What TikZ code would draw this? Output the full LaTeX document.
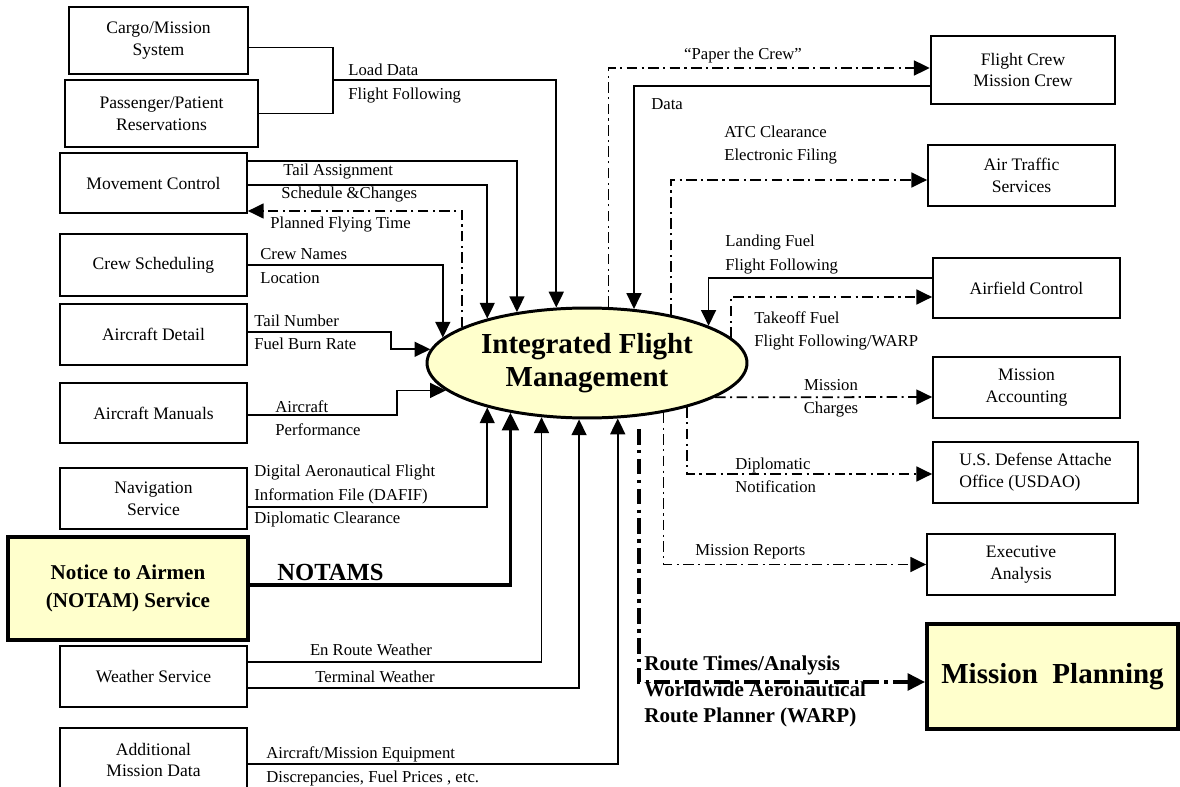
\documentclass[tikz,border=0pt]{standalone}
\usepackage{fontspec}
\setmainfont{Liberation Serif}
\usetikzlibrary{arrows.meta,shapes.geometric,calc}

\definecolor{paleyellow}{HTML}{FFFFCC}
\newcommand{\boxfont}{\fontsize{10}{12.5}\selectfont}
\newcommand{\lblfont}{\fontsize{9.5}{13.3}\selectfont}

\tikzset{
  box/.style={draw, line width=1pt, inner sep=2pt, align=center, font=\boxfont},
  heavybox/.style={box, line width=1.4pt},
  hlbox/.style={draw, line width=2.2pt, fill=paleyellow, align=center, inner sep=2pt},
  conn/.style={line width=1pt},
  tip/.style={-{Triangle[length=9pt,width=8.5pt]}},
  arr/.style={conn, tip},
  dd/.style={line width=1pt, dash pattern=on 6pt off 2.5pt on 1.2pt off 2.5pt, tip},
  lbl/.style={font=\lblfont, align=left, inner sep=0pt, anchor=west},
}

\begin{document}
\begin{tikzpicture}[x=0.02cm, y=-0.02cm]
\useasboundingbox (0,0) rectangle (1180,787);

% central process
\node[ellipse, draw, line width=1.7pt, fill=paleyellow, minimum width=6.4cm,
      minimum height=2.2cm, inner sep=0pt, align=center,
      font=\fontsize{16.5}{18.7}\selectfont\bfseries] (ifm) at (587,363)
      {Integrated Flight\\Management};

% sources on the left
\node[heavybox, minimum width=3.58cm, minimum height=1.34cm] (cargo) at (158.5,40.5) {Cargo/Mission\\System};
\node[heavybox, minimum width=3.86cm, minimum height=1.34cm] (pass) at (161.5,113.5) {Passenger/Patient\\Reservations};
\node[box, minimum width=3.74cm, minimum height=1.2cm] (move) at (153.5,183) {Movement Control};
\node[box, minimum width=3.74cm, minimum height=1.24cm] (crew) at (153.5,265) {Crew Scheduling};
\node[box, minimum width=3.74cm, minimum height=1.22cm] (acdet) at (153.5,334.5) {Aircraft Detail};
\node[box, minimum width=3.74cm, minimum height=1.2cm] (acman) at (153.5,413) {Aircraft Manuals};
\node[box, minimum width=3.74cm, minimum height=1.22cm] (nav) at (153.5,498.5) {Navigation\\Service};
\node[hlbox, minimum width=4.8cm, minimum height=2.06cm,
      font=\fontsize{12}{16}\selectfont\bfseries] (notam) at (128,588.5) {Notice to Airmen\\(NOTAM) Service};
\node[box, minimum width=3.74cm, minimum height=1.22cm] (wx) at (153.5,676.5) {Weather Service};
\node[box, minimum width=3.74cm, minimum height=1.28cm] (addl) at (153.5,760) {Additional\\Mission Data};

% recipients on the right
\node[heavybox, minimum width=3.68cm, minimum height=1.36cm] (fcrew) at (1023,70) {Flight Crew\\Mission Crew};
\node[box, minimum width=3.74cm, minimum height=1.22cm] (ats) at (1021.5,175.5) {Air Traffic\\Services};
\node[box, minimum width=3.74cm, minimum height=1.2cm] (afc) at (1026.5,288) {Airfield Control};
\node[box, minimum width=3.74cm, minimum height=1.22cm] (macc) at (1026.5,387.5) {Mission\\Accounting};
\node[box, minimum width=4.1cm, minimum height=1.22cm, align=left] (usdao) at (1035.5,472.5) {U.S. Defense Attache\\Office (USDAO)};
\node[box, minimum width=3.76cm, minimum height=1.22cm] (exec) at (1021,564.5) {Executive\\Analysis};
\node[hlbox, minimum width=5.02cm, minimum height=2.1cm,
      font=\fontsize{16.5}{18.7}\selectfont\bfseries] (mplan) at (1052.5,676.5) {Mission\ \ Planning};

% junction of the two load-data feeds
\coordinate (jload) at (333,80);

% inputs to the central process
\draw[conn] ($(cargo.east)+(0,7)$) -| (jload) |- (pass.east);
\draw[arr] (jload) -| (ifm.119.1);
\draw[arr] ($(move.east)+(0,-22)$) -| (ifm.144.7);
\draw[arr] ($(move.east)+(0,2)$) -| (ifm.156.8);
\draw[dd] (ifm.164) |- ($(move.east)+(0,28)$);
\draw[arr] (crew.east) -| (ifm.170.5);
\draw[arr] ($(acdet.east)+(0,-2.5)$) -- ++(143,0) |- (ifm.175.6);
\draw[arr] ($(acman.east)+(0,2)$) -- ++(149,0) |- (ifm.191.5);
\draw[arr] ($(nav.east)+(0,8.5)$) -| (ifm.204.3);
\draw[conn, line width=1.8pt, -{Triangle[length=10pt,width=9.5pt]}] ($(notam.east)+(0,-3.5)$) -| (ifm.213.4);
\draw[arr] ($(wx.east)+(0,-14.5)$) -| (ifm.230.3);
\draw[arr] ($(wx.east)+(0,11.5)$) -| (ifm.262.7);
\draw[arr] ($(addl.east)+(0,4)$) -| (ifm.299.1);
\draw[arr] ($(fcrew.west)+(0,16)$) -| (ifm.49.6);
\draw[arr] ($(afc.west)+(0,-10)$) -| (ifm.17.5);

% outputs of the central process
\draw[dd] (ifm.69.9) |- ($(fcrew.west)+(0,-2)$);
\draw[dd] (ifm.30.3) |- ($(ats.west)+(0,4.5)$);
\draw[dd] (ifm.10.1) |- ($(afc.west)+(0,9)$);
\draw[dd] (ifm.-15.1) -- ($(macc.west)+(0,9.5)$);
\draw[dd] (ifm.-24.3) |- ($(usdao.west)+(0,1.5)$);
\draw[dd] (ifm.-33.8) |- (exec.west);
\draw[line width=2.2pt, dash pattern=on 9pt off 3pt on 2pt off 3pt, shorten <=7pt,
      -{Triangle[length=10pt,width=9.5pt]}] (ifm.-46.3) |- ($(mplan.west)+(0,5.5)$);

% flow labels, left
\node[lbl] (tLoad) at (348,83.5) {Load Data\\Flight Following};
\node[lbl] (tTail) at (283,172) {Tail Assignment};
\node[lbl] (tSched) at (281,195) {Schedule \&Changes};
\node[lbl] (tPlan) at (270,225) {Planned Flying Time};
\node[lbl] (tCrew) at (260,266) {Crew Names\\Location};
\node[lbl] (tTailNo) at (254,332) {Tail Number\\Fuel Burn Rate};
\node[lbl] (tPerf) at (275,418.5) {Aircraft\\Performance};
\node[lbl] (tDafif) at (254,496) {Digital Aeronautical Flight\\Information File (DAFIF)\\Diplomatic Clearance};
\node[lbl, font=\fontsize{14}{16}\selectfont\bfseries] (tNotams) at (277,572) {NOTAMS};
\node[lbl, anchor=center] (tEnroute) at (371,650) {En Route Weather};
\node[lbl, anchor=center] (tTerm) at (375,677) {Terminal Weather};
\node[lbl] (tAddl) at (266,766.5) {Aircraft/Mission Equipment\\Discrepancies, Fuel Prices , etc.};

% flow labels, right
\node[lbl, anchor=center] (tPaper) at (743,55) {“Paper the Crew”};
\node[lbl] (tData) at (651,104) {Data};
\node[lbl] (tATC) at (724,145) {ATC Clearance\\Electronic Filing};
\node[lbl] (tLand) at (725,254.5) {Landing Fuel\\Flight Following};
\node[lbl] (tTake) at (754,331) {Takeoff Fuel\\Flight Following/WARP};
\node[lbl, anchor=center, align=center] (tCharges) at (831,398) {Mission\\Charges};
\node[lbl] (tDipl) at (735,475) {Diplomatic\\Notification};
\node[lbl] (tReports) at (695,552) {Mission Reports};
\node[lbl, font=\fontsize{12}{15}\selectfont\bfseries] (tRoute) at (644,691.5)
      {Route Times/Analysis\\Worldwide Aeronautical\\Route Planner (WARP)};
\end{tikzpicture}
\end{document}
